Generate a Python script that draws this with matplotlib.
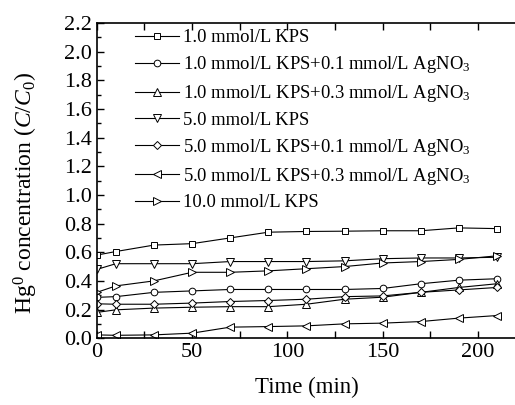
import numpy as np
import matplotlib
matplotlib.use('Agg')
import matplotlib.pyplot as plt
from matplotlib.ticker import MultipleLocator

# Font settings
plt.rcParams['font.family'] = 'Liberation Serif'
plt.rcParams['mathtext.fontset'] = 'custom'
plt.rcParams['mathtext.rm'] = 'Liberation Serif'
plt.rcParams['mathtext.it'] = 'Liberation Serif:italic'

# Sampling times (min)
time = [0, 10, 30, 50, 70, 90, 110, 130, 150, 170, 190, 210]

# Hg0 concentration C/C0 for each condition
kps1 = [0.58, 0.605, 0.65, 0.66, 0.70, 0.74, 0.745, 0.747, 0.75, 0.75, 0.77, 0.765]
kps1_ag01 = [0.285, 0.29, 0.32, 0.33, 0.34, 0.34, 0.34, 0.34, 0.347, 0.38, 0.405, 0.415]
kps1_ag03 = [0.18, 0.198, 0.21, 0.216, 0.22, 0.22, 0.237, 0.272, 0.286, 0.32, 0.354, 0.38]
kps5 = [0.48, 0.52, 0.52, 0.52, 0.535, 0.535, 0.535, 0.54, 0.555, 0.56, 0.56, 0.565]
kps5_ag01 = [0.24, 0.237, 0.237, 0.245, 0.256, 0.263, 0.272, 0.29, 0.295, 0.32, 0.337, 0.354]
kps5_ag03 = [0.023, 0.02, 0.023, 0.035, 0.077, 0.081, 0.086, 0.10, 0.105, 0.116, 0.14, 0.158]
kps10 = [0.32, 0.365, 0.40, 0.46, 0.46, 0.47, 0.485, 0.50, 0.525, 0.535, 0.55, 0.575]

labels = ['1.0 mmol/L KPS',
          '1.0 mmol/L KPS+0.1 mmol/L AgNO$_3$',
          '1.0 mmol/L KPS+0.3 mmol/L AgNO$_3$',
          '5.0 mmol/L KPS',
          '5.0 mmol/L KPS+0.1 mmol/L AgNO$_3$',
          '5.0 mmol/L KPS+0.3 mmol/L AgNO$_3$',
          '10.0 mmol/L KPS']
series = [kps1, kps1_ag01, kps1_ag03, kps5, kps5_ag01, kps5_ag03, kps10]
markers = ['s', 'o', '^', 'v', 'D', '<', '>']
msizes = [4.2, 4.8, 5.3, 5.3, 4.3, 5.3, 5.3]

fig = plt.figure(figsize=(5.15, 4.05), dpi=100)
ax = fig.add_axes([0.188, 0.165, 0.814, 0.778])

for y, m, ms, lab in zip(series, markers, msizes, labels):
    ax.plot(time, y, color='k', linewidth=0.8, marker=m, markersize=ms,
            markerfacecolor='white', markeredgecolor='k', markeredgewidth=0.7,
            label=lab)

ax.set_xlim(0, 220)
ax.set_ylim(0, 2.2)
ax.xaxis.set_major_locator(MultipleLocator(50))
ax.xaxis.set_minor_locator(MultipleLocator(25))
ax.yaxis.set_major_locator(MultipleLocator(0.2))
ax.yaxis.set_minor_locator(MultipleLocator(0.1))
ax.yaxis.set_major_formatter(plt.FormatStrFormatter('%.1f'))
ax.tick_params(which='both', direction='in', top=True, right=False,
               labelsize=16, width=1.0)
ax.tick_params(which='major', length=5)
ax.tick_params(which='minor', length=3)
ax.tick_params(axis='x', which='minor', top=True, length=5)
for s in ax.spines.values():
    s.set_linewidth(1.2)

ax.set_xlabel('Time (min)', fontsize=16.5, labelpad=11)
ax.set_ylabel('Hg$^0$ concentration ($\\mathit{C}$/$\\mathit{C}_0$)', fontsize=17)
ax.yaxis.set_label_coords(-0.136, 0.46)

ax.legend(loc='upper left', frameon=False, fontsize=13.4, handlelength=2.4,
          handletextpad=0.2, labelspacing=0.42, borderaxespad=0.0,
          borderpad=0.0, bbox_to_anchor=(0.09, 0.98))

plt.savefig('out.png', dpi=100)
plt.close()
